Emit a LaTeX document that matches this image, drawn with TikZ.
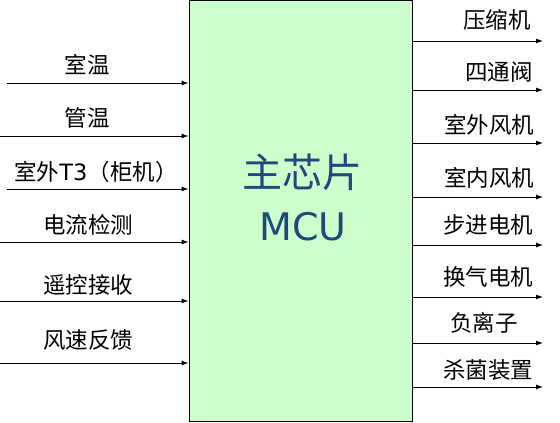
\documentclass[tikz,border=0pt]{standalone}
\usepackage{fontspec}
\setmainfont{Noto Sans CJK SC}
\newfontfamily\latinfont{DejaVu Sans}
\definecolor{chipgreen}{RGB}{204,255,204}
\definecolor{chipblue}{RGB}{31,73,125}
\usetikzlibrary{arrows.meta,positioning}

\begin{document}
\begin{tikzpicture}[x=1pt,y=1pt]
  \tikzset{sig/.style={-{Latex[length=7pt,width=5pt]},line width=0.9pt},
           lbl/.style={inner sep=0pt,font=\fontsize{22.5}{22.5}\selectfont}}
  \useasboundingbox (0,0) rectangle (560,423);
  \node[draw,line width=0.8pt,fill=chipgreen,minimum width=223pt,minimum height=421pt,inner sep=0pt] (mcu) at (300.5,212.5) {};
  \node[text=chipblue,inner sep=0pt,font=\fontsize{40}{40}\selectfont] (chip) at (302,251) {主芯片};
  \node[text=chipblue,inner sep=0pt,font=\latinfont\fontsize{38}{38}\selectfont] (mcutxt) at (303,196) {MCU};
  % inputs
  \coordinate (i1) at (7,340);
  \coordinate (i2) at (0,287);
  \coordinate (i3) at (7,234);
  \coordinate (i4) at (0,181);
  \coordinate (i5) at (0,122);
  \coordinate (i6) at (0,60);
  \node[lbl] (l1) at (87,358) {室温};
  \node[lbl] (l2) at (87,305) {管温};
  \node[lbl] (l3) at (96,251) {室外{\latinfont T3}（柜机）};
  \node[lbl] (l4) at (88,198) {电流检测};
  \node[lbl] (l5) at (88,138) {遥控接收};
  \node[lbl] (l6) at (88,83) {风速反馈};
  \draw[sig] (i1) -- (i1 -| mcu.west);
  \draw[sig] (i2) -- (i2 -| mcu.west);
  \draw[sig] (i3) -- (i3 -| mcu.west);
  \draw[sig] (i4) -- (i4 -| mcu.west);
  \draw[sig] (i5) -- (i5 -| mcu.west);
  \draw[sig] (i6) -- (i6 -| mcu.west);
  % outputs
  \coordinate (o1) at (543,382);
  \coordinate (o2) at (543,333);
  \coordinate (o3) at (543,280);
  \coordinate (o4) at (543,226);
  \coordinate (o5) at (543,178);
  \coordinate (o6) at (543,126);
  \coordinate (o7) at (543,80);
  \coordinate (o8) at (543,36);
  \node[lbl] (r1) at (497,403) {压缩机};
  \node[lbl] (r2) at (499,351) {四通阀};
  \node[lbl] (r3) at (489,298) {室外风机};
  \node[lbl] (r4) at (489,245) {室内风机};
  \node[lbl] (r5) at (488,198) {步进电机};
  \node[lbl] (r6) at (488,146) {换气电机};
  \node[lbl] (r7) at (484,100) {负离子};
  \node[lbl] (r8) at (488,53) {杀菌装置};
  \draw[sig] (o1 -| mcu.east) -- (o1);
  \draw[sig] (o2 -| mcu.east) -- (o2);
  \draw[sig] (o3 -| mcu.east) -- (o3);
  \draw[sig] (o4 -| mcu.east) -- (o4);
  \draw[sig] (o5 -| mcu.east) -- (o5);
  \draw[sig] (o6 -| mcu.east) -- (o6);
  \draw[sig] (o7 -| mcu.east) -- (o7);
  \draw[sig] (o8 -| mcu.east) -- (o8);
\end{tikzpicture}
\end{document}
